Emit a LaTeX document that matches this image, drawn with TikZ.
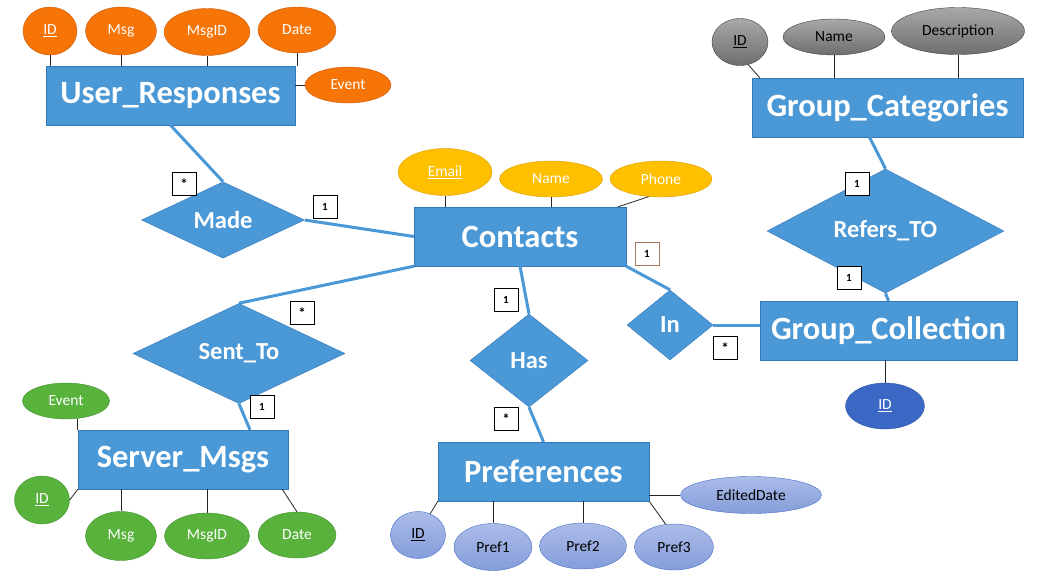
\documentclass[tikz,border=0pt]{standalone}
\usepackage{fontspec}
\setmainfont{Carlito}
\usetikzlibrary{shapes.geometric,positioning}
\definecolor{entblue}{RGB}{74,152,214}
\definecolor{entline}{RGB}{52,118,186}
\definecolor{orfill}{RGB}{247,116,6}
\definecolor{orline}{RGB}{200,90,10}
\definecolor{ylfill}{RGB}{255,192,0}
\definecolor{ylline}{RGB}{214,158,0}
\definecolor{grytop}{RGB}{168,168,168}
\definecolor{grybot}{RGB}{110,110,110}
\definecolor{grfill}{RGB}{88,178,60}
\definecolor{grline}{RGB}{66,145,48}
\definecolor{liltop}{RGB}{172,188,232}
\definecolor{lilbot}{RGB}{132,157,218}
\definecolor{lilline}{RGB}{70,112,200}
\definecolor{dbfill}{RGB}{58,104,196}
\definecolor{dbline}{RGB}{45,84,160}
\definecolor{cardbrown}{RGB}{170,120,90}
\newcommand{\cardstar}{\raisebox{-3.5pt}{\fontsize{15}{15}\selectfont *}}
\begin{document}
\begin{tikzpicture}[x=1pt, y=-1pt,
  ent/.style={draw=entline, fill=entblue, text=white, minimum height=59, inner sep=0pt,
    font=\fontsize{32.5}{34}\selectfont\bfseries},
  rel/.style={diamond, draw=entline, fill=entblue, text=white, inner sep=0pt,
    font=\fontsize{24.5}{26}\selectfont\bfseries},
  attr/.style={ellipse, inner sep=0pt, font=\fontsize{15.5}{17}\selectfont},
  orng/.style={attr, draw=orline, fill=orfill, text=white},
  ylw/.style={attr, draw=ylline, fill=ylfill, text=white},
  gry/.style={attr, draw=black!75, top color=grytop, bottom color=grybot, text=black},
  grn/.style={attr, draw=grline, fill=grfill, text=white},
  lil/.style={attr, draw=lilline, top color=liltop, bottom color=lilbot, text=black},
  dblu/.style={attr, draw=dbline, fill=dbfill, text=white},
  card/.style={draw, fill=white, minimum width=24, minimum height=23, inner sep=0pt,
    font=\fontsize{11}{12}\selectfont\bfseries},
  link/.style={entblue, line width=3pt},
  att/.style={black!85, line width=0.8pt}]
\useasboundingbox (0,0) rectangle (1039,582);

\node[ent, minimum width=249] (ur) at (170.5,95.5) {User\_Responses};
\node[orng, minimum width=54, minimum height=48] (uid) at (50,31) {\underline{ID}};
\node[orng, minimum width=71, minimum height=48] (umsg) at (121,31) {Msg};
\node[orng, minimum width=86, minimum height=47] (umid) at (207,32) {MsgID};
\node[orng, minimum width=78, minimum height=46] (udate) at (297,30) {Date};
\node[orng, minimum width=86, minimum height=36] (uev) at (348,85) {Event};

\node[ent, minimum width=212] (contacts) at (520,236.5) {Contacts};
\node[ylw, minimum width=94, minimum height=47] (cemail) at (445,172) {\underline{Email}};
\node[ylw, minimum width=103, minimum height=36] (cname) at (551,179) {Name};
\node[ylw, minimum width=102, minimum height=36] (cphone) at (661,179) {Phone};

\node[ent, minimum width=271] (gcat) at (887.5,107.5) {Group\_Categories};
\node[gry, minimum width=56, minimum height=47] (gid) at (740,42) {\underline{ID}};
\node[gry, minimum width=102, minimum height=36] (gname) at (834,37) {Name};
\node[gry, minimum width=133, minimum height=47] (gdesc) at (958,31) {Description};

\node[ent, minimum width=257] (gcoll) at (888.5,330.5) {Group\_Collection};
\node[dblu, minimum width=79, minimum height=46] (gcid) at (885,406) {\underline{ID}};

\node[ent, minimum width=211] (pref) at (543.5,471.5) {Preferences};
\node[lil, minimum width=55, minimum height=47] (pid) at (418,535) {\underline{ID}};
\node[lil, minimum width=78, minimum height=47] (pone) at (493,547) {Pref1};
\node[lil, minimum width=87, minimum height=46] (ptwo) at (583,546) {Pref2};
\node[lil, minimum width=79, minimum height=46] (pthree) at (674,547) {Pref3};
\node[lil, minimum width=141, minimum height=37] (pdate) at (751,495) {EditedDate};

\node[ent, minimum width=210] (server) at (183,459.5) {Server\_Msgs};
\node[grn, minimum width=87, minimum height=36] (sev) at (66,401) {Event};
\node[grn, minimum width=55, minimum height=48] (sid) at (42,500) {\underline{ID}};
\node[grn, minimum width=71, minimum height=49] (smsg) at (121,536) {Msg};
\node[grn, minimum width=85, minimum height=46] (smid) at (207,536) {MsgID};
\node[grn, minimum width=78, minimum height=46] (sdate) at (297,535) {Date};

\node[rel, minimum width=163, minimum height=72] (made) at (223,220) {Made};
\node[rel, minimum width=212, minimum height=83] (sent) at (239,353.5) {Sent\_To};
\node[rel, minimum width=118, minimum height=93] (has) at (529,360.5) {Has};
\node[rel, minimum width=86, minimum height=70] (in) at (670,325) {In};
\node[rel, minimum width=237, minimum height=70] (refers) at (885.5,231) {Refers\_TO};

\draw[att] (uid.south) -- (uid.south |- ur.north);
\draw[att] (umsg.south) -- (umsg.south |- ur.north);
\draw[att] (umid.south) -- (umid.south |- ur.north);
\draw[att] (udate.south) -- (udate.south |- ur.north);
\draw[att] (uev.west) -- (uev.west -| ur.east);
\draw[att] (cemail.south) -- (cemail.south |- contacts.north);
\draw[att] (cname.south) -- (cname.south |- contacts.north);
\draw[att] (cphone.235) -- ([xshift=-8]contacts.north east);
\draw[att] (gid.290) -- ([xshift=8]gcat.north west);
\draw[att] (gname.south) -- (gname.south |- gcat.north);
\draw[att] (gdesc.south) -- (gdesc.south |- gcat.north);
\draw[att] (gcid.north) -- (gcid.north |- gcoll.south);
\draw[att] (pid.60) -- (pref.south west);
\draw[att] (pone.north) -- (pone.north |- pref.south);
\draw[att] (ptwo.north) -- (ptwo.north |- pref.south);
\draw[att] (pthree.110) -- (pref.south east);
\draw[att] (pdate.west) -- (pdate.west -| pref.east);
\draw[att] (sev.south -| server.west) -- (server.north west);
\draw[att] (sid.east) -- (server.south west);
\draw[att] (smsg.north) -- (smsg.north |- server.south);
\draw[att] (smid.north) -- (smid.north |- server.south);
\draw[att] (sdate.north) -- ([xshift=-6]server.south east);

\draw[link] (ur.south) -- (made.north);
\draw[link] (made.east) -- (contacts.west);
\draw[link] (contacts.south west) -- (sent.north);
\draw[link] (sent.south) -- ([xshift=67]server.north);
\draw[link] (contacts.south) -- (has.north);
\draw[link] (has.south) -- (pref.north);
\draw[link] (contacts.south east) -- (in.north);
\draw[link] (in.east) -- (in.east -| gcoll.west);
\draw[link] ([xshift=-18]gcat.south) -- (refers.north);
\draw[link] (refers.south) -- (gcoll.north);

\node[card] (cmadeu) at (184,184) {\cardstar};
\node[card] (cmadec) at (325,207) {1};
\node[card] (csentc) at (302,313) {\cardstar};
\node[card] (csents) at (262,407) {1};
\node[card] (chasc) at (506,300) {1};
\node[card] (chasp) at (506,419) {\cardstar};
\node[card, draw=cardbrown] (cinc) at (647,254) {1};
\node[card] (cing) at (725,348) {\cardstar};
\node[card] (crefc) at (857,184) {1};
\node[card] (crefg) at (849,278) {1};
\end{tikzpicture}
\end{document}
